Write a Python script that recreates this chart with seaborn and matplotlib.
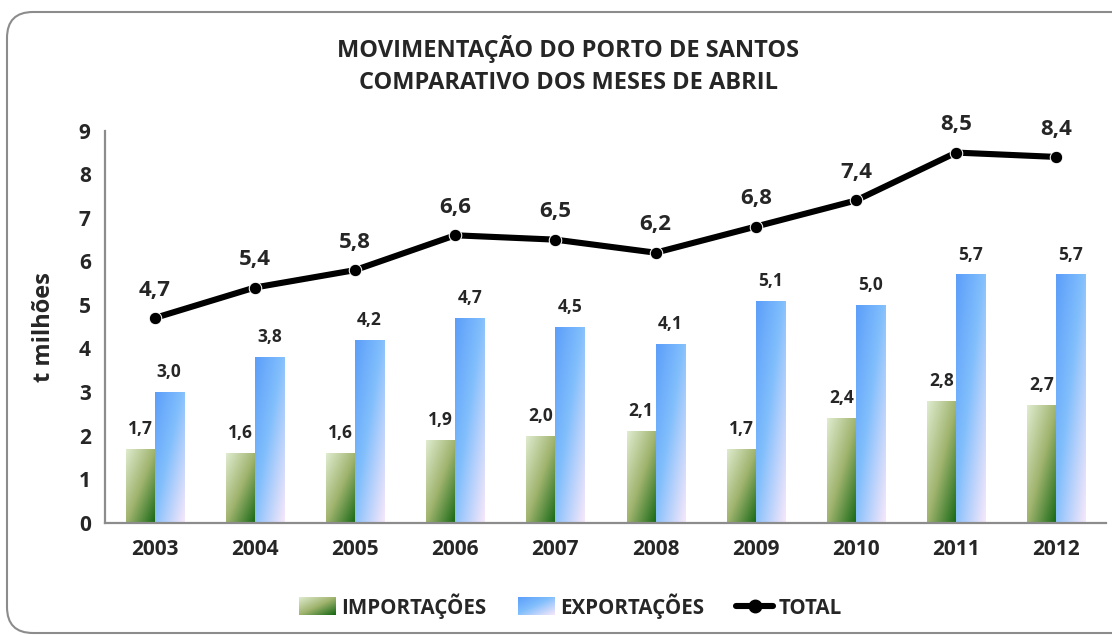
import numpy as np
import pandas as pd
import matplotlib
matplotlib.use('Agg')
import matplotlib.pyplot as plt
import seaborn as sns
from matplotlib.patches import Patch, FancyBboxPatch
from matplotlib.lines import Line2D
from matplotlib.legend_handler import HandlerBase
from matplotlib.image import BboxImage
from matplotlib.transforms import Bbox, TransformedBbox

# dados (milhoes de t)
anos = ['2003', '2004', '2005', '2006', '2007', '2008', '2009', '2010', '2011', '2012']
importacoes = [1.7, 1.6, 1.6, 1.9, 2.0, 2.1, 1.7, 2.4, 2.8, 2.7]
exportacoes = [3.0, 3.8, 4.2, 4.7, 4.5, 4.1, 5.1, 5.0, 5.7, 5.7]
total = [4.7, 5.4, 5.8, 6.6, 6.5, 6.2, 6.8, 7.4, 8.5, 8.4]

df = pd.DataFrame({'Ano': anos * 2,
                   'Valor': importacoes + exportacoes,
                   'Tipo': ['IMPORTAÇÕES'] * len(anos) + ['EXPORTAÇÕES'] * len(anos)})
df_total = pd.DataFrame({'Ano': anos, 'Valor': total})

sns.set_theme(style='white')
plt.rcParams['font.family'] = ['Open Sans', 'DejaVu Sans']
plt.rcParams['font.weight'] = 'bold'


def gradiente(cores, n=120):
    # cores: lista de (pos, (r,g,b)) ; diagonal de cima-esq para baixo-dir
    u = np.linspace(0, 1, n)
    U, V = np.meshgrid(u, u)
    t = (U + V) / 2
    pos = [c[0] for c in cores]
    img = np.zeros((n, n, 3))
    for k in range(3):
        img[..., k] = np.interp(t, pos, [c[1][k] / 255 for c in cores])
    return img


grad_imp = gradiente([(0, (224, 236, 208)), (0.5, (160, 180, 110)), (1, (18, 102, 18))])
grad_exp = gradiente([(0, (92, 158, 250)), (0.45, (128, 190, 252)), (1, (248, 232, 250))])


class HandlerGradiente(HandlerBase):
    def __init__(self, img):
        super().__init__()
        self.img = img

    def create_artists(self, legend, orig_handle, xdescent, ydescent, width, height, fontsize, trans):
        bb = Bbox.from_bounds(-xdescent, -ydescent - 1, width, height + 2)
        im = BboxImage(TransformedBbox(bb, trans), interpolation='bilinear')
        im.set_data(self.img)
        return [im]


fig = plt.figure(figsize=(11.12, 6.35), dpi=100)
ax = fig.add_axes([0.094, 0.177, 0.901, 0.617])

sns.barplot(data=df, x='Ano', y='Valor', hue='Tipo', width=0.58, gap=0,
            palette=['#90b060', '#80b8f8'], legend=False, ax=ax)

# preencher as barras com degrade
bars = [p for p in ax.patches if p.get_height() > 0]
for p in bars:
    x0, w, h = p.get_x(), p.get_width(), p.get_height()
    img = grad_imp if x0 + w / 2 < round(x0 + w / 2) else grad_exp
    im = ax.imshow(img, extent=[x0, x0 + w, 0, h], aspect='auto',
                   interpolation='bilinear', zorder=2)
    im.set_clip_path(p)
    p.set_facecolor('none')
    p.set_edgecolor('none')

sns.lineplot(data=df_total, x='Ano', y='Valor', color='black', lw=4.4,
             marker='o', markersize=9, sort=False, ax=ax, zorder=5)

# rotulos
for i in range(len(anos)):
    ax.text(i - 0.145, importacoes[i] + 0.25, f'{importacoes[i]:.1f}'.replace('.', ','),
            ha='center', va='bottom', fontsize=12.5, fontweight='bold')
    ax.text(i + 0.145, exportacoes[i] + 0.25, f'{exportacoes[i]:.1f}'.replace('.', ','),
            ha='center', va='bottom', fontsize=12.5, fontweight='bold')
    ax.text(i, total[i] + 0.4, f'{total[i]:.1f}'.replace('.', ','),
            ha='center', va='bottom', fontsize=16, fontweight='bold')

ax.set_xlim(-0.5, 9.5)
ax.set_ylim(0, 9)
ax.set_yticks(range(10))
ax.set_xlabel('')
ax.set_ylabel('t milhões', fontsize=17, fontweight='bold', labelpad=16)
ax.tick_params(axis='x', which='major', length=0, labelsize=15, pad=12)
ax.set_xticks(np.arange(-0.5, 10, 1), minor=True)
ax.tick_params(axis='x', which='minor', length=7, width=1.3, color='#8c8c8c', direction='out')
ax.tick_params(axis='y', length=6, width=1.3, color='#8c8c8c', direction='out', labelsize=15, pad=4)
for lab in ax.get_xticklabels() + ax.get_yticklabels():
    lab.set_fontweight('bold')
for s in ['top', 'right']:
    ax.spines[s].set_visible(False)
for s in ['left', 'bottom']:
    ax.spines[s].set_color('#8c8c8c')
    ax.spines[s].set_linewidth(1.6)

fig.text(0.511, 0.898, 'MOVIMENTAÇÃO DO PORTO DE SANTOS\nCOMPARATIVO DOS MESES DE ABRIL',
         ha='center', va='center', fontsize=17, fontweight='bold', linespacing=1.45)

# legenda
h_imp = Patch(label='IMPORTAÇÕES')
h_exp = Patch(label='EXPORTAÇÕES')
h_tot = Line2D([], [], color='black', lw=4.4, marker='o', markersize=9, label='TOTAL')
fig.legend(handles=[h_imp, h_exp, h_tot], loc='center', bbox_to_anchor=(0.513, 0.046),
           ncol=3, frameon=False, fontsize=14.8, handlelength=1.8, handletextpad=0.25,
           columnspacing=1.55,
           handler_map={h_imp: HandlerGradiente(grad_imp), h_exp: HandlerGradiente(grad_exp)})

# moldura arredondada
moldura = FancyBboxPatch((7, 2), 1200, 621, boxstyle='round,pad=0,rounding_size=26',
                         transform=None, fill=False, edgecolor='#8c8c8c', lw=1.5)
fig.patches.append(moldura)

fig.savefig('out.png', dpi=100)
